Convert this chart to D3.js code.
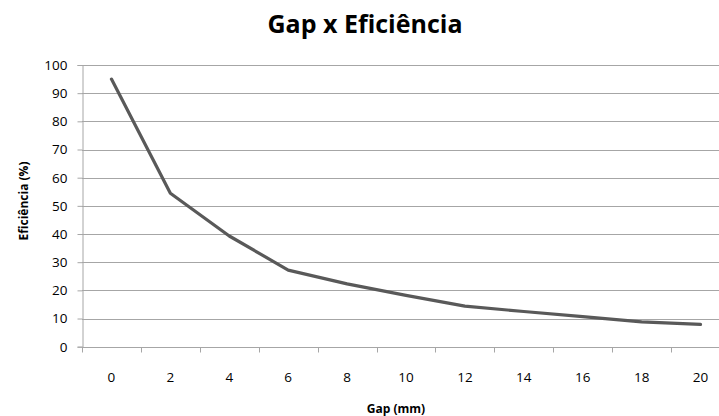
<!DOCTYPE html>
<html>
<head>
<meta charset="utf-8">
<script src="https://cdn.jsdelivr.net/npm/d3@7"></script>
<style>
  html, body { margin: 0; padding: 0; background: #fff; }
  svg { display: block; }
  text { font-family: "Open Sans", "Noto Sans", sans-serif; }
</style>
</head>
<body>
<svg id="chart" width="719" height="416"></svg>
<script>
// Gap (mm) categories and measured efficiency (%)
const gaps = [0, 2, 4, 6, 8, 10, 12, 14, 16, 18, 20];
const efficiency = [95, 54.5, 39.3, 27.2, 22.3, 18.2, 14.4, 12.5, 10.7, 8.8, 7.9];
const yTicks = [0, 10, 20, 30, 40, 50, 60, 70, 80, 90, 100];

const svg = d3.select("#chart");
const margin = { left: 82, top: 65, right: 730, bottom: 346.7 };

const x = d3.scaleBand()
  .domain(gaps)
  .range([margin.left, margin.right])
  .paddingInner(0).paddingOuter(0);

const y = d3.scaleLinear()
  .domain([0, 100])
  .range([margin.bottom, margin.top]);

const gridColor = "#a6a6a6";
const tickFont = "13.5px";

// horizontal gridlines
svg.append("g")
  .selectAll("line")
  .data(yTicks)
  .join("line")
  .attr("x1", margin.left)
  .attr("x2", margin.right)
  .attr("y1", d => Math.round(y(d)) + 0.5)
  .attr("y2", d => Math.round(y(d)) + 0.5)
  .attr("stroke", gridColor)
  .attr("stroke-width", 1);

// y axis
const yAxis = svg.append("g")
  .attr("transform", `translate(${margin.left + 0.5},0)`)
  .call(d3.axisLeft(y).tickValues(yTicks).tickSize(5).tickPadding(10).tickFormat(d3.format("d")));
yAxis.select(".domain").attr("stroke", gridColor);
yAxis.selectAll(".tick line").attr("stroke", gridColor);
yAxis.selectAll(".tick text")
  .attr("fill", "#000")
  .style("font-size", tickFont)
  .style("font-family", "'Open Sans', sans-serif");

// x axis: ticks between categories, labels centred on each category
const xAxisG = svg.append("g")
  .attr("transform", `translate(0,${Math.round(y(0)) + 0.5})`);
const boundaries = gaps.map(g => x(g)).concat([x(gaps[gaps.length - 1]) + x.bandwidth()]);
xAxisG.append("line")
  .attr("x1", margin.left).attr("x2", margin.right)
  .attr("stroke", gridColor);
xAxisG.selectAll("line.tick")
  .data(boundaries)
  .join("line")
  .attr("class", "tick")
  .attr("x1", d => Math.round(d) + 0.5)
  .attr("x2", d => Math.round(d) + 0.5)
  .attr("y1", 0).attr("y2", 5)
  .attr("stroke", gridColor);
xAxisG.selectAll("text")
  .data(gaps)
  .join("text")
  .attr("x", d => x(d) + x.bandwidth() / 2)
  .attr("y", 34.5)
  .attr("text-anchor", "middle")
  .style("font-size", tickFont)
  .attr("fill", "#000")
  .text(d => d);

// efficiency curve
const line = d3.line()
  .x((d, i) => x(gaps[i]) + x.bandwidth() / 2)
  .y(d => y(d));
svg.append("path")
  .datum(efficiency)
  .attr("d", line)
  .attr("fill", "none")
  .attr("stroke", "#595959")
  .attr("stroke-width", 3.2)
  .attr("stroke-linejoin", "round")
  .attr("stroke-linecap", "round");

// titles
svg.append("text")
  .attr("x", 365).attr("y", 33)
  .attr("text-anchor", "middle")
  .style("font-size", "25px")
  .style("font-weight", "bold")
  .attr("fill", "#000")
  .text("Gap x Eficiência");

svg.append("text")
  .attr("transform", `translate(23,201) rotate(-90)`)
  .attr("text-anchor", "middle")
  .attr("dominant-baseline", "central")
  .style("font-size", "12px")
  .style("font-weight", "bold")
  .attr("fill", "#000")
  .text("Eficiência  (%)");

svg.append("text")
  .attr("x", 396).attr("y", 413)
  .attr("text-anchor", "middle")
  .style("font-size", "12px")
  .style("font-weight", "bold")
  .attr("fill", "#000")
  .text("Gap (mm)");
</script>
</body>
</html>
